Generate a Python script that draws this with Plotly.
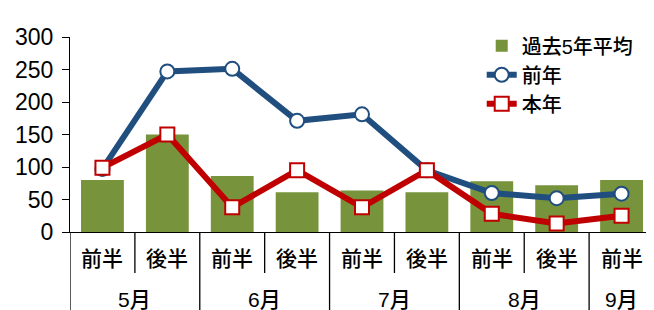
import plotly.graph_objects as go

# ---- data ----
halves = ["前半", "後半", "前半", "後半", "前半", "後半", "前半", "後半", "前半"]
month_labels = ["5月", "6月", "7月", "8月", "9月"]
month_counts = [2, 2, 2, 2, 1]
avg5 = [80, 150, 86, 61, 64, 61, 78, 72, 80]          # 過去5年平均
prev_year = [97, 247, 251, 171, 181, 95, 60, 52, 59]  # 前年
this_year = [99, 150, 38, 95, 38, 95, 28, 13, 25]     # 本年
y_ticks = [0, 50, 100, 150, 200, 250, 300]

# category keys (unique per position)
cats = []
for m, n in zip(month_labels, month_counts):
    for k in range(n):
        cats.append(m + ["前半", "後半"][k])

FONT = "Liberation Sans, Arial, Noto Sans CJK JP, sans-serif"

fig = go.Figure()
fig.add_trace(go.Bar(
    x=cats, y=avg5, name="過去5年平均",
    marker=dict(color="#77933C", line=dict(width=0)),
))
fig.add_trace(go.Scatter(
    x=cats, y=prev_year, name="前年", mode="lines+markers",
    line=dict(color="#1F4E7F", width=6),
    marker=dict(symbol="circle", size=14, color="white",
                line=dict(color="#1F4E7F", width=2)),
))
fig.add_trace(go.Scatter(
    x=cats, y=this_year, name="本年", mode="lines+markers",
    line=dict(color="#C00000", width=6),
    marker=dict(symbol="square", size=14, color="white",
                line=dict(color="#C00000", width=2)),
))

# page has an 8px body margin, so the figure is 646x302 placed at (8,8)
W, H = 646, 302
ML, MT, MB = 62, 29, 78
plot_h = H - MT - MB
shapes = []
annotations = []
lab_font = dict(size=21, color="black", family=FONT, weight=500)
# half labels
for i, h in enumerate(halves):
    annotations.append(dict(x=i, y=-26 / plot_h, xref="x", yref="paper",
                            text=h, showarrow=False, yanchor="middle",
                            font=lab_font))
# separators
start = 0
bounds_long = [-0.5]
bounds_short = []
for m, n in zip(month_labels, month_counts):
    center = start + (n - 1) / 2
    annotations.append(dict(x=center, y=-67 / plot_h, xref="x", yref="paper",
                            text=m, showarrow=False, yanchor="middle",
                            font=lab_font))
    for k in range(1, n):
        bounds_short.append(start + k - 0.5)
    start += n
    bounds_long.append(start - 0.5)
for b in bounds_short:
    shapes.append(dict(type="line", xref="x", yref="paper", x0=b, x1=b,
                       y0=0, y1=-41 / plot_h, line=dict(color="black", width=1.3)))
for b in bounds_long:
    shapes.append(dict(type="line", xref="x", yref="paper", x0=b, x1=b,
                       y0=0, y1=-80 / plot_h, line=dict(color="black", width=1.3)))

fig.update_layout(
    width=W, height=H,
    margin=dict(l=ML, r=0, t=MT, b=MB, autoexpand=False),
    paper_bgcolor="white", plot_bgcolor="white",
    bargap=0.34,
    font=dict(family=FONT, size=21, color="black"),
    showlegend=True,
    legend=dict(x=0.705, y=1.055, xanchor="left", yanchor="top",
                bgcolor="rgba(0,0,0,0)", tracegroupgap=0,
                font=dict(size=20, family=FONT, weight=500), itemwidth=30),
    shapes=shapes, annotations=annotations,
)
fig.update_xaxes(type="category", categoryorder="array", categoryarray=cats,
                 range=[-0.5, 8.5], showticklabels=False, showline=True,
                 linecolor="black", linewidth=1.3, ticks="", showgrid=False,
                 zeroline=False, automargin=False)
fig.update_yaxes(range=[0, 300], tickvals=y_ticks, ticks="outside", ticklen=7,
                 tickcolor="black", tickwidth=1.3, showline=True,
                 linecolor="black", linewidth=1.3, showgrid=False,
                 zeroline=False, tickfont=dict(size=23, family=FONT),
                 ticklabelstandoff=4, automargin=False)

fig.write_html("out.html")
